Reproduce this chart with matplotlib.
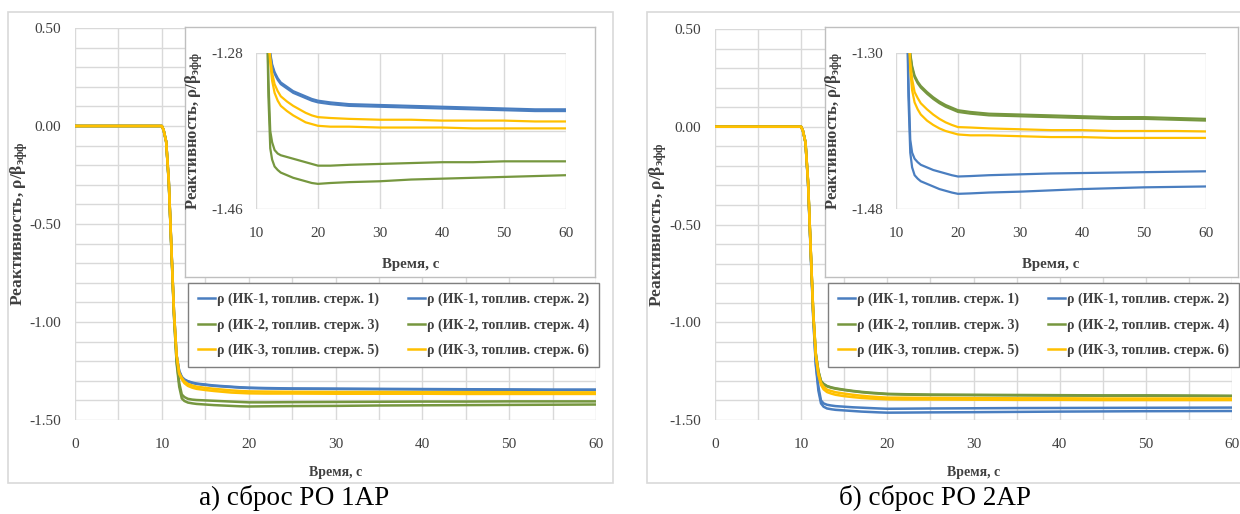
import matplotlib
matplotlib.use("Agg")
import matplotlib.pyplot as plt
from matplotlib.patches import Rectangle

plt.rcParams['font.family'] = ['Liberation Serif', 'DejaVu Serif']
plt.rcParams['mathtext.fontset'] = 'custom'
plt.rcParams['mathtext.rm'] = 'Liberation Serif'
plt.rcParams['mathtext.bf'] = 'Liberation Serif:bold'
plt.rcParams['mathtext.it'] = 'Liberation Serif:italic'
plt.rcParams['axes.unicode_minus'] = False

# ---------------- data ----------------
t = [0, 10, 10.2, 10.5, 10.8, 11.1, 11.4, 11.7, 12.0, 12.3, 12.6, 13.0, 13.5, 14, 15, 16, 17,
     18, 19, 20, 22, 25, 30, 35, 40, 45, 50, 55, 60]

labels = ["ρ (ИК-1, топлив. стерж. 1)", "ρ (ИК-1, топлив. стерж. 2)",
          "ρ (ИК-2, топлив. стерж. 3)", "ρ (ИК-2, топлив. стерж. 4)",
          "ρ (ИК-3, топлив. стерж. 5)", "ρ (ИК-3, топлив. стерж. 6)"]

# panel a) (сброс РО 1АР)
a_s1 = [0, 0, -0.02, -0.08, -0.28, -0.62, -0.95, -1.17, -1.25, -1.280, -1.293, -1.302, -1.309, -1.314,
        -1.319, -1.324, -1.327, -1.330, -1.333, -1.335, -1.337, -1.339, -1.340, -1.341, -1.342,
        -1.343, -1.344, -1.345, -1.345]
a_s2 = [0, 0, -0.02, -0.08, -0.28, -0.62, -0.95, -1.17, -1.25, -1.282, -1.295, -1.304, -1.311, -1.316,
        -1.321, -1.326, -1.329, -1.332, -1.335, -1.337, -1.339, -1.341, -1.342, -1.343, -1.344,
        -1.345, -1.346, -1.347, -1.347]
a_s3 = [0, 0, -0.02, -0.08, -0.29, -0.63, -0.97, -1.20, -1.31, -1.370, -1.383, -1.392, -1.396, -1.398,
        -1.400, -1.402, -1.404, -1.406, -1.408, -1.410, -1.410, -1.409, -1.408, -1.407, -1.406,
        -1.406, -1.405, -1.405, -1.405]
a_s4 = [0, 0, -0.02, -0.08, -0.29, -0.63, -0.97, -1.21, -1.33, -1.390, -1.403, -1.411, -1.415, -1.418,
        -1.421, -1.424, -1.426, -1.428, -1.430, -1.431, -1.430, -1.429, -1.428, -1.426, -1.425,
        -1.424, -1.423, -1.422, -1.421]
a_s5 = [0, 0, -0.02, -0.08, -0.28, -0.62, -0.95, -1.17, -1.26, -1.285, -1.303, -1.316, -1.324, -1.330,
        -1.336, -1.341, -1.345, -1.349, -1.352, -1.354, -1.355, -1.356, -1.357, -1.357, -1.358,
        -1.358, -1.358, -1.359, -1.359]
a_s6 = [0, 0, -0.02, -0.08, -0.28, -0.62, -0.95, -1.17, -1.265, -1.292, -1.312, -1.326, -1.335, -1.341,
        -1.347, -1.352, -1.356, -1.360, -1.362, -1.364, -1.365, -1.365, -1.366, -1.366, -1.366,
        -1.367, -1.367, -1.367, -1.367]

# panel б) (сброс РО 2АР)
b_s1 = [0, 0, -0.02, -0.08, -0.29, -0.63, -0.97, -1.21, -1.33, -1.400, -1.415, -1.422, -1.426, -1.429,
        -1.432, -1.435, -1.437, -1.439, -1.441, -1.4425, -1.442, -1.441, -1.440, -1.439, -1.4385,
        -1.438, -1.4375, -1.437, -1.4365]
b_s2 = [0, 0, -0.02, -0.08, -0.29, -0.64, -0.98, -1.22, -1.35, -1.415, -1.432, -1.441, -1.445, -1.448,
        -1.451, -1.454, -1.457, -1.459, -1.461, -1.4625, -1.462, -1.461, -1.460, -1.4585, -1.457,
        -1.456, -1.455, -1.4545, -1.454]
b_s3 = [0, 0, -0.02, -0.08, -0.28, -0.62, -0.95, -1.16, -1.25, -1.300, -1.315, -1.326, -1.333, -1.338,
        -1.345, -1.351, -1.356, -1.360, -1.363, -1.366, -1.368, -1.370, -1.371, -1.372, -1.373,
        -1.374, -1.374, -1.375, -1.376]
b_s4 = [0, 0, -0.02, -0.08, -0.28, -0.62, -0.95, -1.16, -1.25, -1.302, -1.317, -1.328, -1.335, -1.340,
        -1.347, -1.353, -1.358, -1.362, -1.365, -1.368, -1.370, -1.372, -1.373, -1.374, -1.375,
        -1.376, -1.376, -1.377, -1.378]
b_s5 = [0, 0, -0.02, -0.08, -0.28, -0.62, -0.95, -1.17, -1.26, -1.310, -1.330, -1.345, -1.352, -1.358,
        -1.365, -1.371, -1.376, -1.380, -1.383, -1.3855, -1.386, -1.387, -1.388, -1.389, -1.389,
        -1.390, -1.390, -1.390, -1.3905]
b_s6 = [0, 0, -0.02, -0.08, -0.28, -0.62, -0.95, -1.17, -1.27, -1.320, -1.343, -1.357, -1.365, -1.371,
        -1.378, -1.383, -1.387, -1.390, -1.392, -1.394, -1.395, -1.395, -1.396, -1.397, -1.397,
        -1.398, -1.398, -1.398, -1.398]

main_yticks = [0.5, 0.0, -0.5, -1.0, -1.5]
main_xticks = [0, 10, 20, 30, 40, 50, 60]
inset_xticks = [10, 20, 30, 40, 50, 60]
a_inset_ylim = (-1.46, -1.28)
b_inset_ylim = (-1.48, -1.30)
captions = ["а) сброс РО 1АР", "б) сброс РО 2АР"]

colors = ["#4A7EC0", "#4A7EC0", "#76973F", "#76973F", "#FFC000", "#FFC000"]

# ---------------- layout ----------------
W, H = 1240, 514
fig = plt.figure(figsize=(W / 100, H / 100), dpi=100)


def box(x0, y0, x1, y1):
    return [x0 / W, 1 - y1 / H, (x1 - x0) / W, (y1 - y0) / H]


GRID = "#D9D9D9"
TXT = "#404040"
ylabel_txt = r"Реактивность, ρ/β$_{\mathbf{эфф}}$"

panels = [
    dict(frame=(8, 12, 613, 483), main=(75, 28, 596, 420), inset_frame=(185, 27, 595, 277),
         inset=(256, 53, 566, 209), legend=(189, 284, 598, 366), series=[a_s1, a_s2, a_s3, a_s4, a_s5, a_s6],
         ylim=a_inset_ylim, cap_x=294, ylab_x=30, iylab_x=205),
    dict(frame=(647, 12, 1250, 483), main=(715, 29, 1232, 420), inset_frame=(825, 27, 1238, 277),
         inset=(896, 53, 1206, 209), legend=(829, 284, 1238, 366), series=[b_s1, b_s2, b_s3, b_s4, b_s5, b_s6],
         ylim=b_inset_ylim, cap_x=935, ylab_x=669, iylab_x=845),
]

for i, p in enumerate(panels):
    fx0, fy0, fx1, fy1 = p["frame"]
    fig.patches.append(Rectangle((fx0 / W, 1 - fy1 / H), (fx1 - fx0) / W, (fy1 - fy0) / H,
                                 transform=fig.transFigure, facecolor="white", edgecolor=GRID,
                                 lw=1.2, zorder=0))
    # main axes
    mx0, my0, mx1, my1 = p["main"]
    ax = fig.add_axes(box(*p["main"]), zorder=1)
    ax.set_facecolor("none")
    handles = []
    for s, c, lab in zip(p["series"], colors, labels):
        h, = ax.plot(t, s, color=c, lw=1.8, label=lab, zorder=3)
        handles.append(h)
    ax.set_xlim(0, 60)
    ax.set_ylim(-1.5, 0.5)
    ax.set_xticks(main_xticks)
    ax.set_xticks([v + 5 for v in main_xticks[:-1]], minor=True)
    ax.set_yticks(main_yticks)
    ax.set_yticklabels([f"{v:.2f}" for v in main_yticks])
    ax.set_yticks([round(-1.5 + 0.1 * k, 2) for k in range(21)], minor=True)
    ax.grid(True, which="both", color=GRID, lw=1.0, zorder=0)
    ax.set_axisbelow(True)
    for sp in ax.spines.values():
        sp.set_visible(False)
    ax.tick_params(which="both", length=0, labelsize=11, colors=TXT)
    ax.tick_params(axis="y", pad=10)
    ax.tick_params(axis="x", pad=13)
    ax.set_xlabel("Время, с", fontsize=10, fontweight="bold", color=TXT)
    ax.xaxis.set_label_coords(0.5, -(466 - my1) / (my1 - my0))
    ax.set_ylabel(ylabel_txt, fontsize=12.5, fontweight="bold", color=TXT)
    ax.yaxis.set_label_coords((p["ylab_x"] - mx0) / (mx1 - mx0), 0.5)

    # legend
    lx0, ly0, lx1, ly1 = p["legend"]
    order = [0, 2, 4, 1, 3, 5]
    leg = ax.legend([handles[k] for k in order], [labels[k] for k in order], ncol=2,
                    loc="center",
                    bbox_to_anchor=((lx0 + lx1) / 2 / W, 1 - (ly0 + ly1) / 2 / H),
                    bbox_transform=fig.transFigure, frameon=True, fancybox=False,
                    edgecolor="#7F7F7F", framealpha=1, handlelength=1.25, handletextpad=0.1,
                    columnspacing=2.1, labelspacing=0.85, borderpad=0.75,
                    prop={"family": "Liberation Serif", "weight": "bold", "size": 10})
    leg.get_frame().set_linewidth(1.0)
    for txt in leg.get_texts():
        txt.set_color(TXT)
    leg.set_zorder(5)

    # inset frame
    ifr = fig.add_axes(box(*p["inset_frame"]), zorder=2)
    ifr.set_xticks([])
    ifr.set_yticks([])
    ifr.set_facecolor("white")
    for sp in ifr.spines.values():
        sp.set_color("#BFBFBF")
        sp.set_linewidth(1.0)

    # inset axes
    ix0, iy0, ix1, iy1 = p["inset"]
    ia = fig.add_axes(box(*p["inset"]), zorder=3)
    ia.set_facecolor("none")
    for s, c in zip(p["series"], colors):
        ia.plot(t, s, color=c, lw=1.6, zorder=3)
    lo, hi = p["ylim"]
    ia.set_xlim(10, 60)
    ia.set_ylim(lo, hi)
    ia.set_xticks(inset_xticks)
    ia.set_yticks([lo, (lo + hi) / 2, hi])
    ia.set_yticklabels([f"{lo:.2f}", "", f"{hi:.2f}"])
    ia.grid(True, color=GRID, lw=1.0, zorder=0)
    ia.set_axisbelow(True)
    for sp in ia.spines.values():
        sp.set_visible(False)
    ia.tick_params(length=0, labelsize=11, colors=TXT)
    ia.tick_params(axis="y", pad=9)
    ia.tick_params(axis="x", pad=13)
    ia.set_xlabel("Время, с", fontsize=10.7, fontweight="bold", color=TXT)
    ia.xaxis.set_label_coords(0.5, -(258 - iy1) / (iy1 - iy0))
    ia.set_ylabel(ylabel_txt, fontsize=12, fontweight="bold", color=TXT)
    ia.yaxis.set_label_coords((p["iylab_x"] - ix0) / (ix1 - ix0), 0.5)

    fig.text(p["cap_x"] / W, 1 - 498 / H, captions[i], ha="center", va="center",
             fontsize=19.5, color="black")

fig.savefig("out.png", dpi=100, facecolor="white")
